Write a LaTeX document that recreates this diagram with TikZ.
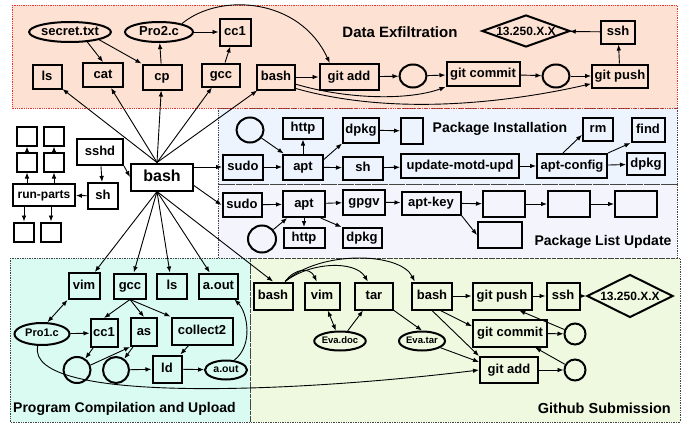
\documentclass[tikz,border=0pt]{standalone}
\usepackage{fontspec}
\setmainfont{Liberation Sans}
\usetikzlibrary{shapes.geometric,arrows.meta,calc}
\definecolor{deFill}{HTML}{FDE1D3}
\definecolor{piFill}{HTML}{EDF4FD}
\definecolor{pluFill}{HTML}{F4F4FD}
\definecolor{pcFill}{HTML}{D9FBF1}
\definecolor{gsFill}{HTML}{EEF9E0}
\definecolor{dotGray}{HTML}{444444}
\definecolor{dotRed}{HTML}{F0302A}
\tikzset{
  bx/.style={draw, line width=2pt, rectangle, inner sep=0pt,
    font=\bfseries\fontsize{13}{15}\selectfont, text height=9.4pt, text depth=2.7pt},
  el/.style={draw, line width=2pt, ellipse, inner sep=0pt,
    font=\bfseries\fontsize{13}{15}\selectfont, text height=9.4pt, text depth=2.7pt},
  sz/.style 2 args={minimum width=#1pt, minimum height=#2pt},
  dia/.style={draw, diamond, aspect=2.75, line width=2pt, inner sep=0pt,
    font=\bfseries\fontsize{12}{14}\selectfont},
  ar/.style={-{Latex[length=6pt,width=4.6pt]}, line width=0.9pt},
  dar/.style={{Latex[length=6pt,width=4.6pt]}-{Latex[length=6pt,width=4.6pt]}, line width=0.9pt},
  lbl/.style={font=\bfseries\fontsize{15}{17}\selectfont, inner sep=0pt},
  region/.style={draw=dotGray, line width=0.7pt, densely dotted},
}
\begin{document}
\begin{tikzpicture}[x=1pt,y=-1pt]
\useasboundingbox (0,0) rectangle (689,426);
% ---------- regions ----------
\fill[piFill] (218,108) rectangle (677,184);
\fill[pluFill] (218,184) rectangle (677,258);
\fill[pcFill] (10,258) rectangle (250,422);
\fill[gsFill] (250,258) rectangle (680,422);
\draw[region] (218,108) rectangle (677,184);
\draw[region] (218,184) rectangle (677,258);
\draw[region] (10,258) rectangle (250,422);
\draw[region] (250,258) rectangle (680,422);
\fill[deFill] (12,5) rectangle (677,108);
\draw[draw=dotRed, line width=0.8pt, densely dotted] (12,5) rectangle (677,108);

% ---------- labels ----------
\node[lbl] (deLabel) at (400,32) {Data Exfiltration};
\node[lbl, font=\bfseries\fontsize{14}{16}\selectfont] (piLabel) at (500,129) {Package Installation};
\node[lbl, font=\bfseries\fontsize{14}{16}\selectfont] (pluLabel) at (603,242) {Package List Update};
\node[lbl, font=\bfseries\fontsize{14}{16}\selectfont, anchor=west] (pcLabel) at (13,409) {Program Compilation and Upload};
\node[lbl, font=\bfseries\fontsize{14.5}{16}\selectfont, anchor=east] (gsLabel) at (671,408) {Github Submission};

% ---------- Data Exfiltration ----------
\node[el, sz={74}{20}] (secret) at (70,32) {secret.txt};
\node[el, sz={68}{20}] (pro2) at (159,32) {Pro2.c};
\node[bx, sz={31}{27}] (cc1) at (235,32) {cc1};
\node[bx, sz={29}{24}] (ls) at (47,77) {ls};
\node[bx, sz={40}{24}] (cat) at (103,75) {cat};
\node[bx, sz={39}{25}] (cp) at (162,77) {cp};
\node[bx, sz={38}{23}] (gcc) at (221,75) {gcc};
\node[bx, sz={38}{25}] (bashT) at (276,77) {bash};
\node[bx, sz={59}{26}] (gitadd) at (349,77) {git add};
\node[el, sz={27}{23}] (dc1) at (413,76) {};
\node[bx, sz={73}{24}] (gitcommit) at (483,74) {git commit};
\node[el, sz={27}{23}] (dc2) at (556,76) {};
\node[bx, sz={56}{23}] (gitpush) at (620,76) {git push};
\node[bx, sz={34}{23}] (ssh) at (618,32) {ssh};
\node[dia, sz={88}{32}] (dip) at (526,31) {13.250.X.X};

\draw[ar] (secret.-30) -- (cat.north);
\draw[ar] (secret.-15) -- (cp.north west);
\draw[ar] (cp) -- (pro2);
\draw[ar] (pro2) -- (cc1);
\draw[ar] (gcc) -- (cc1);
\draw[ar] (pro2.20) .. controls (220,-8) and (300,-2) .. (gitadd.144);
\draw[ar] (bashT) -- (gitadd);
\draw[ar] (gitadd) -- (dc1);
\draw[ar] (dc1) -- (gitcommit);
\draw[ar] (gitcommit) -- (dc2);
\draw[ar] (dc2) -- (gitpush);
\draw[ar] (bashT.-20) .. controls (350,100) and (410,100) .. (gitcommit.south west);
\draw[ar] (bashT.-30) .. controls (400,118) and (520,100) .. (gitpush.195);
\draw[ar] (gitpush) -- (ssh);
\draw[ar] (ssh) -- (dip);

% ---------- centre ----------
\node[bx, sz={62}{27}, font=\bfseries\fontsize{16}{18}\selectfont, text height=11.5pt, text depth=3.3pt] (bash) at (162,177) {bash};
\node[bx, sz={46}{26}] (sshd) at (100,152) {sshd};
\node[bx, sz={30}{26}] (sh) at (103,196) {sh};
\node[bx, sz={62}{22}, font=\bfseries\fontsize{12}{14}\selectfont] (runparts) at (44,195) {run-parts};
\node[bx, sz={20}{19}] (sq11) at (27,136) {};
\node[bx, sz={20}{19}] (sq12) at (54,136) {};
\node[bx, sz={20}{19}] (sq21) at (27,162) {};
\node[bx, sz={20}{19}] (sq22) at (54,162) {};
\node[bx, sz={20}{19}] (sq31) at (24,232) {};
\node[bx, sz={20}{19}] (sq32) at (51,232) {};
\coordinate (bt) at ([xshift=-5pt]bash.north);
\coordinate (bb) at ([xshift=-5pt]bash.south);

\draw[ar] (sshd) -- (sh);
\draw[ar] (sshd.south east) -- (bash.west);
\draw[ar] (sh) -- (runparts);
\draw[ar] (sq21.south |- runparts.north) -- (sq21.south);
\draw[ar] (sq22.south |- runparts.north) -- (sq22.south);
\draw[ar] (sq21) -- (sq11);
\draw[ar] (sq22) -- (sq12);
\draw[ar] (sq31.north |- runparts.south) -- (sq31.north);
\draw[ar] (sq32.north |- runparts.south) -- (sq32.north);

\draw[ar] (bt) -- (ls);
\draw[ar] (bt) -- (cat);
\draw[ar] (bt) -- (cp);
\draw[ar] (bt) -- (gcc);
\draw[ar] (bt) -- (bashT);

% ---------- Package Installation ----------
\node[el, sz={27}{25}] (pcirc) at (250,130) {};
\node[bx, sz={40}{21}] (phttp) at (303,128) {http};
\node[bx, sz={36}{25}] (pdpkg) at (361,130) {dpkg};
\node[bx, sz={22}{26}] (pbox) at (412,131) {};
\node[bx, sz={40}{25}] (psudo) at (243,167) {sudo};
\node[bx, sz={40}{25}] (papt) at (303,167) {apt};
\node[bx, sz={40}{23}] (psh) at (363,168) {sh};
\node[bx, sz={118}{24}] (pupd) at (460,166) {update-motd-upd};
\node[bx, sz={70}{24}] (pcfg) at (572,166) {apt-config};
\node[bx, sz={30}{23}] (prm) at (598,129) {rm};
\node[bx, sz={33}{24}] (pfind) at (648,130) {find};
\node[bx, sz={38}{22}] (pdpkg2) at (646,164) {dpkg};

\draw[ar] (psudo -| bash.east) -- (psudo);
\draw[ar] (pcirc) -- (papt);
\draw[ar] (papt) -- (phttp);
\draw[ar] (papt.20) -- (pdpkg.south west);
\draw[ar] (pdpkg) -- (pbox);
\draw[ar] (psudo) -- (papt);
\draw[ar] (papt) -- (psh);
\draw[ar] (psh) -- (pupd);
\draw[ar] (pupd) -- (pcfg);
\draw[ar] (pcfg.125) -- (prm.200);
\draw[ar] (pcfg.north east) -- (pfind.south west);
\draw[ar] (pcfg) -- (pdpkg2);

% ---------- Package List Update ----------
\node[bx, sz={39}{24}] (lsudo) at (242,205) {sudo};
\node[bx, sz={42}{26}] (lapt) at (304,204) {apt};
\node[bx, sz={42}{25}] (lgpgv) at (364,202) {gpgv};
\node[bx, sz={59}{23}] (lkey) at (431,203) {apt-key};
\node[bx, sz={42}{26}] (lb1) at (504,204) {};
\node[bx, sz={42}{26}] (lb2) at (569,204) {};
\node[bx, sz={42}{26}] (lb3) at (636,204) {};
\node[bx, sz={44}{26}] (lb4) at (500,235) {};
\node[el, sz={28}{27}] (lcirc) at (262,239) {};
\node[bx, sz={41}{20}] (lhttp) at (304,238) {http};
\node[bx, sz={39}{20}] (ldpkg) at (362,238) {dpkg};

\draw[ar] (bash.-15) -- (lsudo.west);
\draw[ar] (lsudo) -- (lapt);
\draw[ar] (lapt) -- (lgpgv);
\draw[ar] (lgpgv) -- (lkey);
\draw[ar] (lkey) -- (lb1);
\draw[ar] (lb1) -- (lb2);
\draw[ar] (lb2) -- (lb3);
\draw[ar] (lkey.south east) -- (lb4.west);
\draw[ar] (lcirc) -- (lapt);
\draw[ar] (lapt) -- (lhttp);
\draw[ar] (lapt.-40) -- (ldpkg.north west);

% ---------- Program Compilation and Upload ----------
\node[bx, sz={31}{26}] (cvim) at (84,286) {vim};
\node[bx, sz={32}{25}] (cgcc) at (130,286) {gcc};
\node[bx, sz={30}{25}] (cls) at (172,286) {ls};
\node[bx, sz={39}{25}] (caout) at (218.5,286) {a.out};
\node[el, sz={55}{22}, font=\bfseries\fontsize{11}{13}\selectfont, text height=8pt, text depth=2.3pt] (cpro1) at (42,334) {Pro1.c};
\node[bx, sz={27}{28}] (ccc1) at (104,333) {cc1};
\node[bx, sz={26}{28}] (cas) at (144,332) {as};
\node[bx, sz={61}{27}] (ccol) at (202,331) {collect2};
\node[el, sz={27}{26}] (cca) at (77,370) {};
\node[el, sz={26}{26}] (ccb) at (116,370) {};
\node[bx, sz={29}{27}] (cld) at (167,369) {ld};
\node[el, sz={42}{19}, font=\bfseries\fontsize{10.5}{12}\selectfont, text height=7.6pt, text depth=2.2pt] (caoutE) at (226,370) {a.out};

\draw[ar] (bb) -- (cvim);
\draw[ar] (bb) -- (cgcc);
\draw[ar] (bb) -- (cls);
\draw[ar] (bb) -- (caout);
\draw[dar] (cpro1.65) -- (cvim.south west);
\draw[ar] (cgcc.south) -- (ccc1.north);
\draw[ar] (cgcc.south) -- (cas.north);
\draw[ar] (cgcc.south) -- (ccol.north west);
\draw[ar] (cpro1) -- (ccc1);
\draw[ar] (ccc1) -- (cca);
\draw[ar] (cca.20) -- (cas.south west);
\draw[ar] (cas) -- (ccb);
\draw[ar] (ccb) -- (cld);
\draw[ar] (ccol) -- (cld);
\draw[ar] (cld) -- (caoutE);
\draw[ar] (caoutE.50) .. controls (254,345) and (247,312) .. (caout.-40);

% ---------- Github Submission ----------
\node[bx, sz={39}{27}] (gbash) at (273,296) {bash};
\node[bx, sz={35}{27}] (gvim) at (322,296) {vim};
\node[bx, sz={38}{27}] (gtar) at (374,296) {tar};
\node[bx, sz={40}{27}] (gbash2) at (432,296) {bash};
\node[bx, sz={59}{27}] (gpush) at (502,296) {git push};
\node[bx, sz={33}{27}] (gssh) at (563,296) {ssh};
\node[dia, sz={86}{43}, aspect=2.2] (gdip) at (630,296) {13.250.X.X};
\node[el, sz={46}{19}, font=\bfseries\fontsize{9.5}{11}\selectfont, text height=7pt, text depth=2pt] (gedoc) at (340,341) {Eva.doc};
\node[el, sz={46}{19}, font=\bfseries\fontsize{9.5}{11}\selectfont, text height=7pt, text depth=2pt] (getar) at (422,341) {Eva.tar};
\node[bx, sz={74}{27}] (gcommit) at (510,333) {git commit};
\node[el, sz={21}{21}] (gc1) at (575,334) {};
\node[bx, sz={58}{26}] (gadd) at (509,370) {git add};
\node[el, sz={21}{21}] (gc2) at (575,370) {};

\draw[ar] (bb) -- (gbash.north);
\draw[ar] (gbash.50) .. controls (295,268) and (310,267) .. (gvim.110);
\draw[ar] (gbash.50) .. controls (310,262) and (355,260) .. (gtar.113);
\draw[ar] (gbash.50) .. controls (320,250) and (400,252) .. (gbash2.140);
\draw[dar] (gvim) -- (gedoc);
\draw[ar] (gedoc) -- (gtar);
\draw[ar] (gtar.south east) -- (getar.north);
\draw[ar] (getar.-20) -- (gadd.165);
\draw[ar] (gbash2) -- (gpush);
\draw[ar] (gbash2.-60) -- (gcommit.170);
\draw[ar] (gbash2.south) -- (gadd.north west);
\draw[ar] (gpush) -- (gssh);
\draw[ar] (gssh) -- (gdip);
\draw[ar] (gcommit) -- (gc1);
\draw[ar] (gc1) -- (gpush.-40);
\draw[ar] (gadd) -- (gc2);
\draw[ar] (gc2) -- (gcommit.-30);
\draw[ar] (cpro1.-110) .. controls (25,405) and (300,392) .. (gadd.west);
\end{tikzpicture}
\end{document}
